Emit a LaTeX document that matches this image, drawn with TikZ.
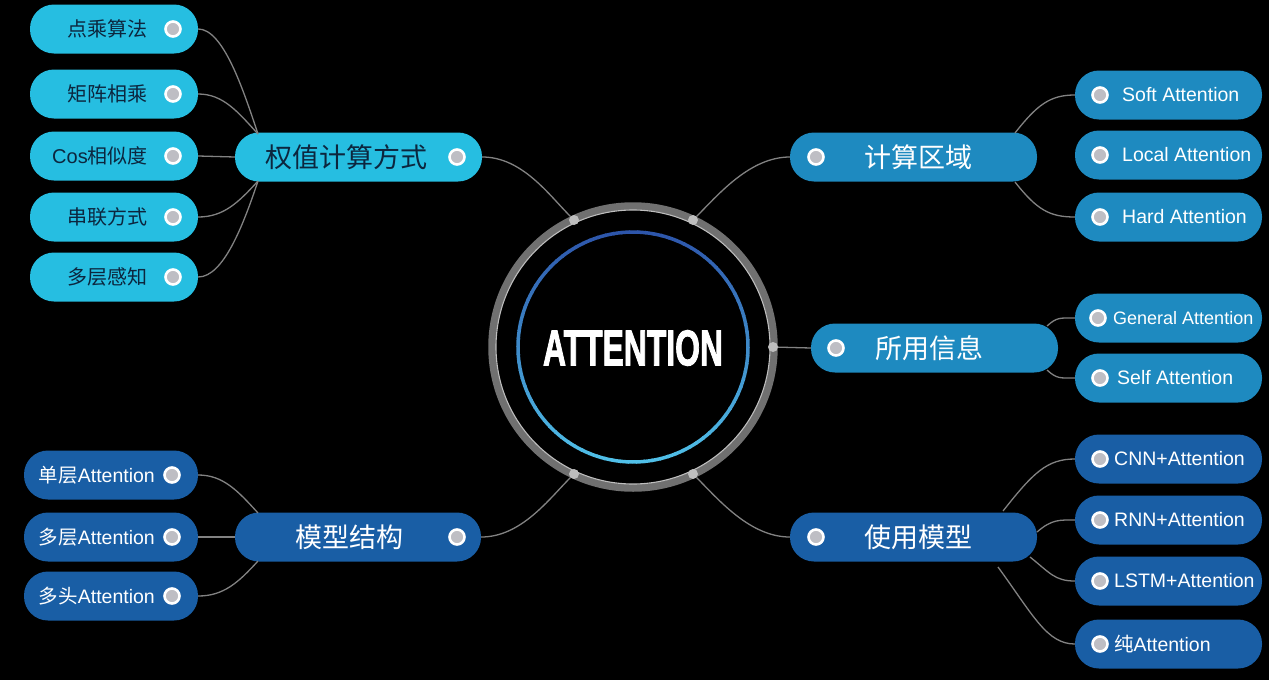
\documentclass[tikz,border=0pt]{standalone}
\usepackage{fontspec}
\setmainfont{Liberation Sans}
\newfontfamily\cjk{Noto Sans CJK SC}
\newfontfamily\heavyfont{Liberation Sans}[UprightFeatures={FakeBold=2.2}, BoldFeatures={FakeBold=2.2}]
\usetikzlibrary{calc}
\definecolor{cyanc}{RGB}{38,190,225}
\definecolor{midc}{RGB}{30,138,192}
\definecolor{darkc}{RGB}{25,94,165}
\definecolor{darktext}{RGB}{12,38,62}
\definecolor{linegray}{RGB}{130,130,130}
\definecolor{dotgray}{RGB}{190,190,196}
\definecolor{ringgray}{RGB}{112,112,112}
\definecolor{ringlight}{RGB}{190,190,190}
\definecolor{topc}{RGB}{45,85,170}
\definecolor{botc}{RGB}{80,192,232}
\begin{document}
\begin{tikzpicture}[x=1pt,y=-1pt,
  pillbox/.style={rectangle, rounded corners=24pt, minimum height=49pt, inner sep=0pt, draw=none},
  cyanbox/.style={pillbox, fill=cyanc},
  midbox/.style={pillbox, fill=midc},
  darkbox/.style={pillbox, fill=darkc},
  dotmark/.style={circle, fill=dotgray, draw=white, line width=2.6pt, minimum size=15pt, inner sep=0pt},
  ringdot/.style={circle, fill=ringlight, minimum size=10pt, inner sep=0pt},
  link/.style={draw=linegray, line width=1.3pt},
  ctext/.style={inner sep=0pt, text=darktext, font=\fontsize{20}{22}\selectfont},
  wtext/.style={inner sep=0pt, text=white, font=\fontsize{19.5}{22}\selectfont},
  pctext/.style={inner sep=0pt, text=darktext, font=\cjk\fontsize{27}{30}\selectfont},
  pwtext/.style={inner sep=0pt, text=white, font=\cjk\fontsize{27}{30}\selectfont}
]
\useasboundingbox (0,0) rectangle (1269,680);
\fill[black] (0,0) rectangle (1269,680);

% ---- centre ----
\node[circle, inner sep=0pt, minimum size=10pt] (core) at (633,347) {};
\draw[ringgray, line width=7.5pt] (core.center) circle[radius=141];
\draw[ringlight, line width=1.1pt] (core.center) circle[radius=137];
\foreach \a in {0,4,...,356}{
  \pgfmathsetmacro\m{50-50*sin(\a+2)}
  \draw[line width=3.5pt, color=topc!\m!botc] ($(core.center)+(\a:115)$) arc[start angle=\a, end angle=\a+4.6, radius=115];
}
\node[text=white, inner sep=0pt] (title) at (633,348) {\resizebox{180pt}{35pt}{\heavyfont\bfseries ATTENTION}};

\node[ringdot] (dTL) at (574,220) {};
\node[ringdot] (dTR) at (693,220) {};
\node[ringdot] (dR)  at (773,347) {};
\node[ringdot] (dBL) at (574,474) {};
\node[ringdot] (dBR) at (693,474) {};

% ---- top-left group ----
\node[cyanbox, minimum width=247pt] (p1) at (358.5,157) {};
\node[pctext] (p1t) at (346,157) {权值计算方式};
\node[dotmark] (p1d) at (457,157) {};
\coordinate (p1u) at (258,134);
\coordinate (p1l) at (258,181);

\foreach \n/\y/\t in {c1/29/{\cjk 点乘算法}, c2/94/{\cjk 矩阵相乘}, c3/156/{Cos{\cjk 相似度}}, c4/217/{\cjk 串联方式}, c5/277/{\cjk 多层感知}}{
  \node[cyanbox, minimum width=168pt] (\n) at (114,\y) {};
  \node[ctext, anchor=east] (\n t) at (148,\y) {\t};
  \node[dotmark] (\n d) at (173,\y) {};
}
\draw[link] (c1.east) .. controls +(25,0) and +(-15,-45) .. (p1u);
\draw[link] (c2.east) .. controls +(25,0) and +(-20,-22) .. (p1u);
\draw[link] (c3.east) -- (p1.west);
\draw[link] (c4.east) .. controls +(25,0) and +(-20,22) .. (p1l);
\draw[link] (c5.east) .. controls +(25,0) and +(-15,45) .. (p1l);
\draw[link] (p1.east) .. controls +(40,0) and +(-25,-25) .. (dTL);

% ---- bottom-left group ----
\node[darkbox, minimum width=246pt] (p2) at (358,537) {};
\node[pwtext] (p2t) at (349,537) {模型结构};
\node[dotmark] (p2d) at (457,537) {};
\coordinate (p2u) at (258,513);
\coordinate (p2l) at (258,561);
\foreach \n/\y/\t in {b1/475/{{\cjk 单层}Attention}, b2/537/{{\cjk 多层}Attention}, b3/596/{{\cjk 多头}Attention}}{
  \node[darkbox, minimum width=174pt] (\n) at (111,\y) {};
  \node[wtext, anchor=east] (\n t) at (155,\y) {\t};
  \node[dotmark] (\n d) at (172,\y) {};
}
\draw[link] (b1.east) .. controls +(25,0) and +(-20,-22) .. (p2u);
\draw[link] (b2.east) -- (p2.west);
\draw[link] (b3.east) .. controls +(25,0) and +(-20,22) .. (p2l);
\draw[link] (p2.east) .. controls +(40,0) and +(-25,25) .. (dBL);

% ---- top-right group ----
\node[midbox, minimum width=247pt] (r1) at (913.5,157) {};
\node[pwtext] (r1t) at (918,157) {计算区域};
\node[dotmark] (r1d) at (816,157) {};
\coordinate (r1u) at (1015,133);
\coordinate (r1l) at (1015,182);
\foreach \n/\y/\x/\t in {s1/95/1122/{Soft Attention}, s2/155/1122/{Local Attention}, s3/217/1122/{Hard Attention}}{
  \node[midbox, minimum width=187pt] (\n) at (1168.5,\y) {};
  \node[wtext, anchor=west] (\n t) at (\x,\y) {\t};
  \node[dotmark] (\n d) at (1100,\y) {};
}
\draw[link] (r1u) .. controls +(22,-28) and +(-25,0) .. (s1.west);
\draw[link] (r1l) .. controls +(22,28) and +(-25,0) .. (s3.west);
\draw[link] (dTR) .. controls +(25,-25) and +(-40,0) .. (r1.west);

% ---- middle-right group ----
\node[midbox, minimum width=247pt] (r2) at (934.5,348) {};
\node[pwtext] (r2t) at (929,348) {所用信息};
\node[dotmark] (r2d) at (836,348) {};
\coordinate (r2u) at (1047,326);
\coordinate (r2l) at (1047,370);
\node[midbox, minimum width=187pt] (g1) at (1168.5,318) {};
\node[wtext, anchor=west, font=\fontsize{18}{20}\selectfont] (g1t) at (1113,318) {General Attention};
\node[dotmark] (g1d) at (1098,318) {};
\node[midbox, minimum width=187pt] (g2) at (1168.5,378) {};
\node[wtext, anchor=west] (g2t) at (1117,378) {Self Attention};
\node[dotmark] (g2d) at (1100,378) {};
\draw[link] (r2u) .. controls +(10,-9) and +(-15,0) .. (g1.west);
\draw[link] (r2l) .. controls +(10,9) and +(-15,0) .. (g2.west);
\draw[link] (dR) -- (r2.west);

% ---- bottom-right group ----
\node[darkbox, minimum width=247pt] (r3) at (913.5,537) {};
\node[pwtext] (r3t) at (918,537) {使用模型};
\node[dotmark] (r3d) at (816,537) {};
\coordinate (r3a) at (1003,511);
\coordinate (r3b) at (1037,532);
\coordinate (r3c) at (1030,557);
\coordinate (r3e) at (998,567);
\foreach \n/\y/\t in {m1/459/{CNN+Attention}, m2/520/{RNN+Attention}, m3/581/{LSTM+Attention}, m4/644/{{\cjk 纯}Attention}}{
  \node[darkbox, minimum width=187pt] (\n) at (1168.5,\y) {};
  \node[wtext, anchor=west] (\n t) at (1114,\y) {\t};
  \node[dotmark] (\n d) at (1100,\y) {};
}
\draw[link] (r3a) .. controls +(30,-38) and +(-28,0) .. (m1.west);
\draw[link] (r3b) .. controls +(15,-13) and +(-15,0) .. (m2.west);
\draw[link] (r3c) .. controls +(20,16) and +(-20,0) .. (m3.west);
\draw[link] (r3e) .. controls +(35,48) and +(-28,0) .. (m4.west);
\draw[link] (dBR) .. controls +(25,25) and +(-40,0) .. (r3.west);
\end{tikzpicture}
\end{document}
